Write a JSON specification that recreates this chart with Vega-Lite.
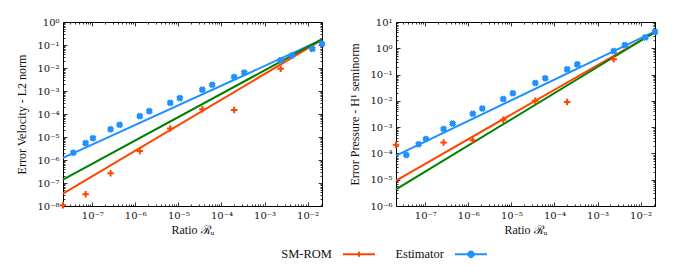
{
  "$schema": "https://vega.github.io/schema/vega-lite/v6.json",
  "padding": {"left": 14, "top": 16, "right": 5, "bottom": 5},
  "config": {
    "view": {"stroke": "black", "strokeWidth": 1},
    "font": "Liberation Serif",
    "legend": {"labelFont": "Liberation Serif"},
    "axis": {"labelFont": "DejaVu Serif", "titleFont": "Liberation Serif", "labelFontSize": 10, "titleFontSize": 12, "labelColor": "#111", "titleColor": "#111", "titleFontWeight": "normal", "domain": false, "grid": false, "tickColor": "black", "tickWidth": 0.8}
  },
  "datasets": {
    "fits": [
      {"panel": "vel", "series": "SM-ROM", "x": 2.09e-8, "y": 3.47e-8},
      {"panel": "vel", "series": "SM-ROM", "x": 0.0216, "y": 0.166},
      {"panel": "vel", "series": "Estimator", "x": 2.09e-8, "y": 1.23e-6},
      {"panel": "vel", "series": "Estimator", "x": 0.0216, "y": 0.17},
      {"panel": "vel", "series": "Reference", "x": 2.09e-8, "y": 1.41e-7},
      {"panel": "vel", "series": "Reference", "x": 0.0216, "y": 0.178},
      {"panel": "pre", "series": "SM-ROM", "x": 2.09e-8, "y": 9.3e-6},
      {"panel": "pre", "series": "SM-ROM", "x": 0.0216, "y": 4.07},
      {"panel": "pre", "series": "Estimator", "x": 2.09e-8, "y": 8.3e-5},
      {"panel": "pre", "series": "Estimator", "x": 0.0216, "y": 4.37},
      {"panel": "pre", "series": "Reference", "x": 2.09e-8, "y": 4.27e-6},
      {"panel": "pre", "series": "Reference", "x": 0.0216, "y": 4.17}
    ],
    "pts": [
      {"panel": "vel", "series": "SM-ROM", "x": 2.09e-8, "y": 1.07e-8},
      {"panel": "vel", "series": "SM-ROM", "x": 7.0e-8, "y": 3.24e-8},
      {"panel": "vel", "series": "SM-ROM", "x": 2.66e-7, "y": 2.66e-7},
      {"panel": "vel", "series": "SM-ROM", "x": 1.27e-6, "y": 2.45e-6},
      {"panel": "vel", "series": "SM-ROM", "x": 6.46e-6, "y": 2.34e-5},
      {"panel": "vel", "series": "SM-ROM", "x": 3.59e-5, "y": 1.62e-4},
      {"panel": "vel", "series": "SM-ROM", "x": 1.97e-4, "y": 1.5e-4},
      {"panel": "vel", "series": "SM-ROM", "x": 2.37e-3, "y": 9.2e-3},
      {"panel": "vel", "series": "Estimator", "x": 3.63e-8, "y": 2.07e-6},
      {"panel": "vel", "series": "Estimator", "x": 7.0e-8, "y": 5.4e-6},
      {"panel": "vel", "series": "Estimator", "x": 1.035e-7, "y": 8.9e-6},
      {"panel": "vel", "series": "Estimator", "x": 2.66e-7, "y": 2.16e-5},
      {"panel": "vel", "series": "Estimator", "x": 4.31e-7, "y": 3.39e-5},
      {"panel": "vel", "series": "Estimator", "x": 1.27e-6, "y": 8.1e-5},
      {"panel": "vel", "series": "Estimator", "x": 2.11e-6, "y": 1.33e-4},
      {"panel": "vel", "series": "Estimator", "x": 6.46e-6, "y": 3.05e-4},
      {"panel": "vel", "series": "Estimator", "x": 1.08e-5, "y": 4.9e-4},
      {"panel": "vel", "series": "Estimator", "x": 3.59e-5, "y": 1.15e-3},
      {"panel": "vel", "series": "Estimator", "x": 6.1e-5, "y": 1.88e-3},
      {"panel": "vel", "series": "Estimator", "x": 1.97e-4, "y": 4.07e-3},
      {"panel": "vel", "series": "Estimator", "x": 3.39e-4, "y": 6.3e-3},
      {"panel": "vel", "series": "Estimator", "x": 2.37e-3, "y": 2.16e-2},
      {"panel": "vel", "series": "Estimator", "x": 4.32e-3, "y": 3.5e-2},
      {"panel": "vel", "series": "Estimator", "x": 1.29e-2, "y": 6.8e-2},
      {"panel": "vel", "series": "Estimator", "x": 2.16e-2, "y": 0.111},
      {"panel": "pre", "series": "SM-ROM", "x": 2.09e-8, "y": 2.14e-4},
      {"panel": "pre", "series": "SM-ROM", "x": 2.66e-7, "y": 2.63e-4},
      {"panel": "pre", "series": "SM-ROM", "x": 1.27e-6, "y": 3.16e-4},
      {"panel": "pre", "series": "SM-ROM", "x": 6.46e-6, "y": 1.9e-3},
      {"panel": "pre", "series": "SM-ROM", "x": 3.59e-5, "y": 1.0e-2},
      {"panel": "pre", "series": "SM-ROM", "x": 1.97e-4, "y": 9.1e-3},
      {"panel": "pre", "series": "SM-ROM", "x": 2.37e-3, "y": 0.38},
      {"panel": "pre", "series": "Estimator", "x": 3.63e-8, "y": 8.7e-5},
      {"panel": "pre", "series": "Estimator", "x": 7.0e-8, "y": 2.24e-4},
      {"panel": "pre", "series": "Estimator", "x": 1.035e-7, "y": 3.55e-4},
      {"panel": "pre", "series": "Estimator", "x": 2.66e-7, "y": 8.5e-4},
      {"panel": "pre", "series": "Estimator", "x": 4.31e-7, "y": 1.38e-3},
      {"panel": "pre", "series": "Estimator", "x": 1.27e-6, "y": 3.24e-3},
      {"panel": "pre", "series": "Estimator", "x": 2.11e-6, "y": 5.1e-3},
      {"panel": "pre", "series": "Estimator", "x": 6.46e-6, "y": 1.17e-2},
      {"panel": "pre", "series": "Estimator", "x": 1.08e-5, "y": 1.95e-2},
      {"panel": "pre", "series": "Estimator", "x": 3.59e-5, "y": 4.8e-2},
      {"panel": "pre", "series": "Estimator", "x": 6.1e-5, "y": 7.2e-2},
      {"panel": "pre", "series": "Estimator", "x": 1.97e-4, "y": 0.158},
      {"panel": "pre", "series": "Estimator", "x": 3.39e-4, "y": 0.245},
      {"panel": "pre", "series": "Estimator", "x": 2.37e-3, "y": 0.78},
      {"panel": "pre", "series": "Estimator", "x": 4.32e-3, "y": 1.32},
      {"panel": "pre", "series": "Estimator", "x": 1.29e-2, "y": 2.6},
      {"panel": "pre", "series": "Estimator", "x": 2.16e-2, "y": 4.2}
    ]
  },
  "resolve": {"scale": {"color": "shared"}, "legend": {"color": "shared"}},
  "spacing": 20,
  "hconcat": [
    {
      "width": 259,
      "height": 184,
      "resolve": {"axis": {"x": "independent", "y": "independent"}},
      "layer": [
        {
          "data": {"name": "fits"},
          "transform": [{"filter": "datum.panel === 'vel'"}],
          "mark": {"type": "line", "strokeWidth": 2},
          "encoding": {
            "x": {"field": "x", "type": "quantitative", "scale": {"type": "log", "domain": [2.09e-8, 0.0216], "nice": false},
              "axis": {"orient": "bottom", "title": "Ratio ℛᵤ", "titlePadding": 4, "minExtent": 14, "maxExtent": 14,
                "values": [3e-8,4e-8,5e-8,6e-8,7e-8,8e-8,9e-8,1e-7,2e-7,3e-7,4e-7,5e-7,6e-7,7e-7,8e-7,9e-7,1e-6,2e-6,3e-6,4e-6,5e-6,6e-6,7e-6,8e-6,9e-6,1e-5,2e-5,3e-5,4e-5,5e-5,6e-5,7e-5,8e-5,9e-5,1e-4,2e-4,3e-4,4e-4,5e-4,6e-4,7e-4,8e-4,9e-4,1e-3,2e-3,3e-3,4e-3,5e-3,6e-3,7e-3,8e-3,9e-3,1e-2,2e-2],
                "labelExpr": "abs(log(datum.value)/LN10 - round(log(datum.value)/LN10)) < 1e-6 ? '10' + (round(log(datum.value)/LN10) < 0 ? '⁻' : '') + ['⁰','¹','²','³','⁴','⁵','⁶','⁷','⁸','⁹'][abs(round(log(datum.value)/LN10))] : ''",
                "tickSize": {"condition": {"test": "abs(log(datum.value)/LN10 - round(log(datum.value)/LN10)) < 1e-6", "value": -4}, "value": -2},
                "labelPadding": 8, "labelFlush": false, "labelOverlap": false}},
            "y": {"field": "y", "type": "quantitative", "scale": {"type": "log", "domain": [1e-8, 1], "nice": false},
              "axis": {"orient": "left", "title": "Error Velocity - L2 norm", "titlePadding": 4, "minExtent": 31, "maxExtent": 31,
                "values": [1e-8,2e-8,3e-8,4e-8,5e-8,6e-8,7e-8,8e-8,9e-8,1e-7,2e-7,3e-7,4e-7,5e-7,6e-7,7e-7,8e-7,9e-7,1e-6,2e-6,3e-6,4e-6,5e-6,6e-6,7e-6,8e-6,9e-6,1e-5,2e-5,3e-5,4e-5,5e-5,6e-5,7e-5,8e-5,9e-5,1e-4,2e-4,3e-4,4e-4,5e-4,6e-4,7e-4,8e-4,9e-4,1e-3,2e-3,3e-3,4e-3,5e-3,6e-3,7e-3,8e-3,9e-3,1e-2,2e-2,3e-2,4e-2,5e-2,6e-2,7e-2,8e-2,9e-2,0.1,0.2,0.3,0.4,0.5,0.6,0.7,0.8,0.9,1],
                "labelExpr": "abs(log(datum.value)/LN10 - round(log(datum.value)/LN10)) < 1e-6 ? '10' + (round(log(datum.value)/LN10) < 0 ? '⁻' : '') + ['⁰','¹','²','³','⁴','⁵','⁶','⁷','⁸','⁹'][abs(round(log(datum.value)/LN10))] : ''",
                "tickSize": {"condition": {"test": "abs(log(datum.value)/LN10 - round(log(datum.value)/LN10)) < 1e-6", "value": -4}, "value": -2},
                "labelPadding": 8, "labelFlush": false, "labelOverlap": false}},
            "color": {"field": "series", "type": "nominal",
              "scale": {"domain": ["SM-ROM", "Estimator", "Reference"], "range": ["#ff4500", "#1e90ff", "#008000"]},
              "legend": {"orient": "none", "legendX": 279, "legendY": 215, "direction": "horizontal", "title": null, "values": ["SM-ROM", "Estimator"],
                "symbolSize": 1024, "symbolStrokeWidth": 2, "labelFont": "Liberation Serif", "labelFontSize": 12.5, "labelColor": "#111",
                "labelAlign": "right", "labelOffset": -44, "columnPadding": 16,
                "encode": {"symbols": {"update": {
                  "shape": {"signal": "datum.value === 'SM-ROM' ? 'M-1,0H1M0,-0.16V0.16M-0.16,0H0.16' : 'M-1,0H1M-0.16,-0.06L-0.06,-0.16L0,-0.1L0.06,-0.16L0.16,-0.06L0.1,0L0.16,0.06L0.06,0.16L0,0.1L-0.06,0.16L-0.16,0.06L-0.1,0Z'"},
                  "fill": {"signal": "datum.value === 'SM-ROM' ? 'transparent' : '#1e90ff'"}}}}}},
            "detail": {"field": "series"}
          }
        },
        {
          "data": {"name": "pts"},
          "transform": [{"filter": "datum.panel === 'vel' && datum.series === 'SM-ROM'"}],
          "mark": {"type": "point", "shape": "M-1,0H1M0,-1V1", "filled": false, "stroke": "#ff4500", "strokeWidth": 2, "size": 42, "opacity": 1},
          "encoding": {
            "x": {"field": "x", "type": "quantitative", "scale": {"type": "log", "domain": [2.09e-8, 0.0216], "nice": false},
              "axis": {"orient": "top", "title": null, "labels": false, "minExtent": 0, "maxExtent": 0,
                "values": [3e-8,4e-8,5e-8,6e-8,7e-8,8e-8,9e-8,1e-7,2e-7,3e-7,4e-7,5e-7,6e-7,7e-7,8e-7,9e-7,1e-6,2e-6,3e-6,4e-6,5e-6,6e-6,7e-6,8e-6,9e-6,1e-5,2e-5,3e-5,4e-5,5e-5,6e-5,7e-5,8e-5,9e-5,1e-4,2e-4,3e-4,4e-4,5e-4,6e-4,7e-4,8e-4,9e-4,1e-3,2e-3,3e-3,4e-3,5e-3,6e-3,7e-3,8e-3,9e-3,1e-2,2e-2],
                "tickSize": {"condition": {"test": "abs(log(datum.value)/LN10 - round(log(datum.value)/LN10)) < 1e-6", "value": -4}, "value": -2}}},
            "y": {"field": "y", "type": "quantitative", "scale": {"type": "log", "domain": [1e-8, 1], "nice": false},
              "axis": {"orient": "right", "title": null, "labels": false, "minExtent": 0, "maxExtent": 0,
                "values": [1e-8,2e-8,3e-8,4e-8,5e-8,6e-8,7e-8,8e-8,9e-8,1e-7,2e-7,3e-7,4e-7,5e-7,6e-7,7e-7,8e-7,9e-7,1e-6,2e-6,3e-6,4e-6,5e-6,6e-6,7e-6,8e-6,9e-6,1e-5,2e-5,3e-5,4e-5,5e-5,6e-5,7e-5,8e-5,9e-5,1e-4,2e-4,3e-4,4e-4,5e-4,6e-4,7e-4,8e-4,9e-4,1e-3,2e-3,3e-3,4e-3,5e-3,6e-3,7e-3,8e-3,9e-3,1e-2,2e-2,3e-2,4e-2,5e-2,6e-2,7e-2,8e-2,9e-2,0.1,0.2,0.3,0.4,0.5,0.6,0.7,0.8,0.9,1],
                "tickSize": {"condition": {"test": "abs(log(datum.value)/LN10 - round(log(datum.value)/LN10)) < 1e-6", "value": -4}, "value": -2}}}
          }
        },
        {
          "data": {"name": "pts"},
          "transform": [{"filter": "datum.panel === 'vel' && datum.series === 'Estimator'"}],
          "mark": {"type": "point", "shape": "M-1,-0.3L-0.3,-1L0,-0.7L0.3,-1L1,-0.3L0.7,0L1,0.3L0.3,1L0,0.7L-0.3,1L-1,0.3L-0.7,0Z", "filled": true, "color": "#1e90ff", "size": 50, "opacity": 1},
          "encoding": {
            "x": {"field": "x", "type": "quantitative", "scale": {"type": "log", "domain": [2.09e-8, 0.0216], "nice": false}, "axis": null},
            "y": {"field": "y", "type": "quantitative", "scale": {"type": "log", "domain": [1e-8, 1], "nice": false}, "axis": null}
          }
        }
      ]
    },
    {
      "width": 259,
      "height": 184,
      "resolve": {"axis": {"x": "independent", "y": "independent"}},
      "layer": [
        {
          "data": {"name": "fits"},
          "transform": [{"filter": "datum.panel === 'pre'"}],
          "mark": {"type": "line", "strokeWidth": 2},
          "encoding": {
            "x": {"field": "x", "type": "quantitative", "scale": {"type": "log", "domain": [2.09e-8, 0.0216], "nice": false},
              "axis": {"orient": "bottom", "title": "Ratio ℛᵤ", "titlePadding": 4, "minExtent": 14, "maxExtent": 14,
                "values": [3e-8,4e-8,5e-8,6e-8,7e-8,8e-8,9e-8,1e-7,2e-7,3e-7,4e-7,5e-7,6e-7,7e-7,8e-7,9e-7,1e-6,2e-6,3e-6,4e-6,5e-6,6e-6,7e-6,8e-6,9e-6,1e-5,2e-5,3e-5,4e-5,5e-5,6e-5,7e-5,8e-5,9e-5,1e-4,2e-4,3e-4,4e-4,5e-4,6e-4,7e-4,8e-4,9e-4,1e-3,2e-3,3e-3,4e-3,5e-3,6e-3,7e-3,8e-3,9e-3,1e-2,2e-2],
                "labelExpr": "abs(log(datum.value)/LN10 - round(log(datum.value)/LN10)) < 1e-6 ? '10' + (round(log(datum.value)/LN10) < 0 ? '⁻' : '') + ['⁰','¹','²','³','⁴','⁵','⁶','⁷','⁸','⁹'][abs(round(log(datum.value)/LN10))] : ''",
                "tickSize": {"condition": {"test": "abs(log(datum.value)/LN10 - round(log(datum.value)/LN10)) < 1e-6", "value": -4}, "value": -2},
                "labelPadding": 8, "labelFlush": false, "labelOverlap": false}},
            "y": {"field": "y", "type": "quantitative", "scale": {"type": "log", "domain": [1e-6, 10], "nice": false},
              "axis": {"orient": "left", "title": "Error Pressure - H¹ seminorm", "titlePadding": 4, "minExtent": 31, "maxExtent": 31,
                "values": [1e-6,2e-6,3e-6,4e-6,5e-6,6e-6,7e-6,8e-6,9e-6,1e-5,2e-5,3e-5,4e-5,5e-5,6e-5,7e-5,8e-5,9e-5,1e-4,2e-4,3e-4,4e-4,5e-4,6e-4,7e-4,8e-4,9e-4,1e-3,2e-3,3e-3,4e-3,5e-3,6e-3,7e-3,8e-3,9e-3,1e-2,2e-2,3e-2,4e-2,5e-2,6e-2,7e-2,8e-2,9e-2,0.1,0.2,0.3,0.4,0.5,0.6,0.7,0.8,0.9,1,2,3,4,5,6,7,8,9,10],
                "labelExpr": "abs(log(datum.value)/LN10 - round(log(datum.value)/LN10)) < 1e-6 ? '10' + (round(log(datum.value)/LN10) < 0 ? '⁻' : '') + ['⁰','¹','²','³','⁴','⁵','⁶','⁷','⁸','⁹'][abs(round(log(datum.value)/LN10))] : ''",
                "tickSize": {"condition": {"test": "abs(log(datum.value)/LN10 - round(log(datum.value)/LN10)) < 1e-6", "value": -4}, "value": -2},
                "labelPadding": 8, "labelFlush": false, "labelOverlap": false}},
            "color": {"field": "series", "type": "nominal",
              "scale": {"domain": ["SM-ROM", "Estimator", "Reference"], "range": ["#ff4500", "#1e90ff", "#008000"]},
              "legend": {"orient": "none", "legendX": 279, "legendY": 215, "direction": "horizontal", "title": null, "values": ["SM-ROM", "Estimator"],
                "symbolSize": 1024, "symbolStrokeWidth": 2, "labelFont": "Liberation Serif", "labelFontSize": 12.5, "labelColor": "#111",
                "labelAlign": "right", "labelOffset": -44, "columnPadding": 16,
                "encode": {"symbols": {"update": {
                  "shape": {"signal": "datum.value === 'SM-ROM' ? 'M-1,0H1M0,-0.16V0.16M-0.16,0H0.16' : 'M-1,0H1M-0.16,-0.06L-0.06,-0.16L0,-0.1L0.06,-0.16L0.16,-0.06L0.1,0L0.16,0.06L0.06,0.16L0,0.1L-0.06,0.16L-0.16,0.06L-0.1,0Z'"},
                  "fill": {"signal": "datum.value === 'SM-ROM' ? 'transparent' : '#1e90ff'"}}}}}},
            "detail": {"field": "series"}
          }
        },
        {
          "data": {"name": "pts"},
          "transform": [{"filter": "datum.panel === 'pre' && datum.series === 'SM-ROM'"}],
          "mark": {"type": "point", "shape": "M-1,0H1M0,-1V1", "filled": false, "stroke": "#ff4500", "strokeWidth": 2, "size": 42, "opacity": 1},
          "encoding": {
            "x": {"field": "x", "type": "quantitative", "scale": {"type": "log", "domain": [2.09e-8, 0.0216], "nice": false},
              "axis": {"orient": "top", "title": null, "labels": false, "minExtent": 0, "maxExtent": 0,
                "values": [3e-8,4e-8,5e-8,6e-8,7e-8,8e-8,9e-8,1e-7,2e-7,3e-7,4e-7,5e-7,6e-7,7e-7,8e-7,9e-7,1e-6,2e-6,3e-6,4e-6,5e-6,6e-6,7e-6,8e-6,9e-6,1e-5,2e-5,3e-5,4e-5,5e-5,6e-5,7e-5,8e-5,9e-5,1e-4,2e-4,3e-4,4e-4,5e-4,6e-4,7e-4,8e-4,9e-4,1e-3,2e-3,3e-3,4e-3,5e-3,6e-3,7e-3,8e-3,9e-3,1e-2,2e-2],
                "tickSize": {"condition": {"test": "abs(log(datum.value)/LN10 - round(log(datum.value)/LN10)) < 1e-6", "value": -4}, "value": -2}}},
            "y": {"field": "y", "type": "quantitative", "scale": {"type": "log", "domain": [1e-6, 10], "nice": false},
              "axis": {"orient": "right", "title": null, "labels": false, "minExtent": 0, "maxExtent": 0,
                "values": [1e-6,2e-6,3e-6,4e-6,5e-6,6e-6,7e-6,8e-6,9e-6,1e-5,2e-5,3e-5,4e-5,5e-5,6e-5,7e-5,8e-5,9e-5,1e-4,2e-4,3e-4,4e-4,5e-4,6e-4,7e-4,8e-4,9e-4,1e-3,2e-3,3e-3,4e-3,5e-3,6e-3,7e-3,8e-3,9e-3,1e-2,2e-2,3e-2,4e-2,5e-2,6e-2,7e-2,8e-2,9e-2,0.1,0.2,0.3,0.4,0.5,0.6,0.7,0.8,0.9,1,2,3,4,5,6,7,8,9,10],
                "tickSize": {"condition": {"test": "abs(log(datum.value)/LN10 - round(log(datum.value)/LN10)) < 1e-6", "value": -4}, "value": -2}}}
          }
        },
        {
          "data": {"name": "pts"},
          "transform": [{"filter": "datum.panel === 'pre' && datum.series === 'Estimator'"}],
          "mark": {"type": "point", "shape": "M-1,-0.3L-0.3,-1L0,-0.7L0.3,-1L1,-0.3L0.7,0L1,0.3L0.3,1L0,0.7L-0.3,1L-1,0.3L-0.7,0Z", "filled": true, "color": "#1e90ff", "size": 50, "opacity": 1},
          "encoding": {
            "x": {"field": "x", "type": "quantitative", "scale": {"type": "log", "domain": [2.09e-8, 0.0216], "nice": false}, "axis": null},
            "y": {"field": "y", "type": "quantitative", "scale": {"type": "log", "domain": [1e-6, 10], "nice": false}, "axis": null}
          }
        }
      ]
    }
  ]
}
